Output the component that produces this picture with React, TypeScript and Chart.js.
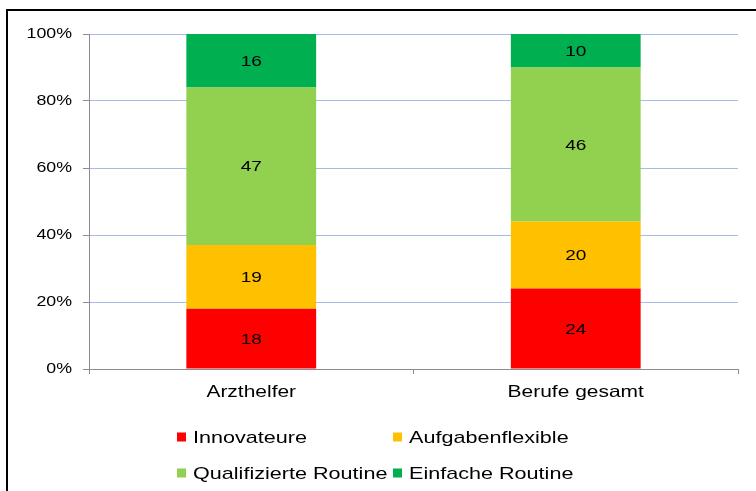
import React, { useEffect, useRef } from "react";
import { Chart, registerables } from "chart.js";

Chart.register(...registerables);

const categories = ["Arzthelfer", "Berufe gesamt"];
const seriesNames = ["Innovateure", "Aufgabenflexible", "Qualifizierte Routine", "Einfache Routine"];
const innovateure = [18, 24];
const aufgabenflexible = [19, 20];
const qualifizierteRoutine = [47, 46];
const einfacheRoutine = [16, 10];
const seriesColors = ["#FF0000", "#FFC000", "#92D050", "#00B050"];
const yTickValues = [0, 20, 40, 60, 80, 100];

const FONT = '"Liberation Sans", Arial, Helvetica, sans-serif';
const TEXT_STRETCH = 1.27;

// The reference text is horizontally widened; stretch every glyph run around its anchor.
const stretchTextPlugin = {
  id: "stretchText",
  beforeDraw(chart: any) {
    const ctx = chart.ctx;
    if (ctx.__origFillText) return;
    const orig = ctx.fillText;
    ctx.__origFillText = orig;
    ctx.fillText = function (text: string, x: number, y: number, maxWidth?: number) {
      this.save();
      this.translate(x, y);
      this.scale(TEXT_STRETCH, 1);
      if (maxWidth === undefined) orig.call(this, text, 0, 0);
      else orig.call(this, text, 0, 0, maxWidth / TEXT_STRETCH);
      this.restore();
    };
  },
  afterDraw(chart: any) {
    const ctx = chart.ctx;
    if (ctx.__origFillText) {
      ctx.fillText = ctx.__origFillText;
      delete ctx.__origFillText;
    }
  },
};

const dataLabelPlugin = {
  id: "dataLabels",
  afterDatasetsDraw(chart: any) {
    const ctx = chart.ctx;
    ctx.save();
    ctx.font = `15px ${FONT}`;
    ctx.fillStyle = "#000";
    ctx.textAlign = "center";
    ctx.textBaseline = "middle";
    chart.data.datasets.forEach((ds: any, i: number) => {
      const meta = chart.getDatasetMeta(i);
      meta.data.forEach((el: any, j: number) => {
        const v = ds.data[j];
        const cy = (el.y + el.base) / 2;
        ctx.fillText(String(v), el.x, cy + 1);
      });
    });
    ctx.restore();
  },
};

const legendPlugin = {
  id: "gridLegend",
  afterDatasetsDraw(chart: any) {
    const ctx = chart.ctx;
    const colX = [177, 393];
    const rowY = [437, 473];
    ctx.save();
    ctx.font = `17px ${FONT}`;
    ctx.textBaseline = "middle";
    ctx.textAlign = "left";
    chart.data.datasets.forEach((ds: any, i: number) => {
      const x = colX[i % 2];
      const y = rowY[Math.floor(i / 2)];
      ctx.fillStyle = ds.backgroundColor;
      ctx.fillRect(x, y - 4.5, 9, 9);
      ctx.fillStyle = "#000";
      ctx.fillText(ds.label, x + 16, y + 1);
    });
    ctx.restore();
  },
};

export default function App() {
  const ref = useRef<HTMLCanvasElement>(null);
  useEffect(() => {
    if (!ref.current) return;
    const seriesData = [innovateure, aufgabenflexible, qualifizierteRoutine, einfacheRoutine];
    const chart = new Chart(ref.current, {
      type: "bar",
      data: {
        labels: categories,
        datasets: seriesNames.map((name, i) => ({
          label: name,
          data: seriesData[i],
          backgroundColor: seriesColors[i],
          borderWidth: 0,
          categoryPercentage: 1,
          barPercentage: 0.4,
        })),
      },
      options: {
        responsive: false,
        animation: false,
        devicePixelRatio: 1,
        layout: { padding: { top: 34, right: 18, left: 0, bottom: 0 } },
        plugins: {
          legend: { display: false },
          tooltip: { enabled: false },
        },
        scales: {
          x: {
            stacked: true,
            grid: {
              display: true,
              drawOnChartArea: false,
              tickLength: 5,
              tickColor: "#8C8C8C",
              offset: true,
            },
            border: { display: true, color: "#8C8C8C", width: 1 },
            ticks: {
              font: { family: FONT, size: 16.5 },
              color: "#000",
              padding: 9,
            },
            afterFit(scale: any) {
              scale.height = 122;
            },
          },
          y: {
            stacked: true,
            min: 0,
            max: 100,
            afterBuildTicks(scale: any) {
              scale.ticks = yTickValues.map((v) => ({ value: v }));
            },
            grid: {
              color: "#A4BDE8",
              lineWidth: 1,
              tickLength: 6,
              tickColor: "#8C8C8C",
            },
            border: { display: true, color: "#8C8C8C", width: 1 },
            ticks: {
              font: { family: FONT, size: 14 },
              color: "#000",
              padding: 11,
              callback: (v: any) => `${v}%`,
            },
            afterFit(scale: any) {
              scale.width = 89;
            },
          },
        },
      },
      plugins: [stretchTextPlugin, dataLabelPlugin, legendPlugin],
    });
    return () => chart.destroy();
  }, []);

  return (
    <div style={{ position: "fixed", left: 0, top: 0, width: 756, height: 491, background: "#fff" }}>
      <canvas ref={ref} width={756} height={491} style={{ position: "absolute", left: 0, top: 0 }} />
      <div
        style={{
          position: "absolute",
          left: 6,
          top: 9,
          width: 750,
          height: 482,
          boxSizing: "border-box",
          borderTop: "2px solid #000",
          borderLeft: "2px solid #000",
          pointerEvents: "none",
        }}
      />
    </div>
  );
}
